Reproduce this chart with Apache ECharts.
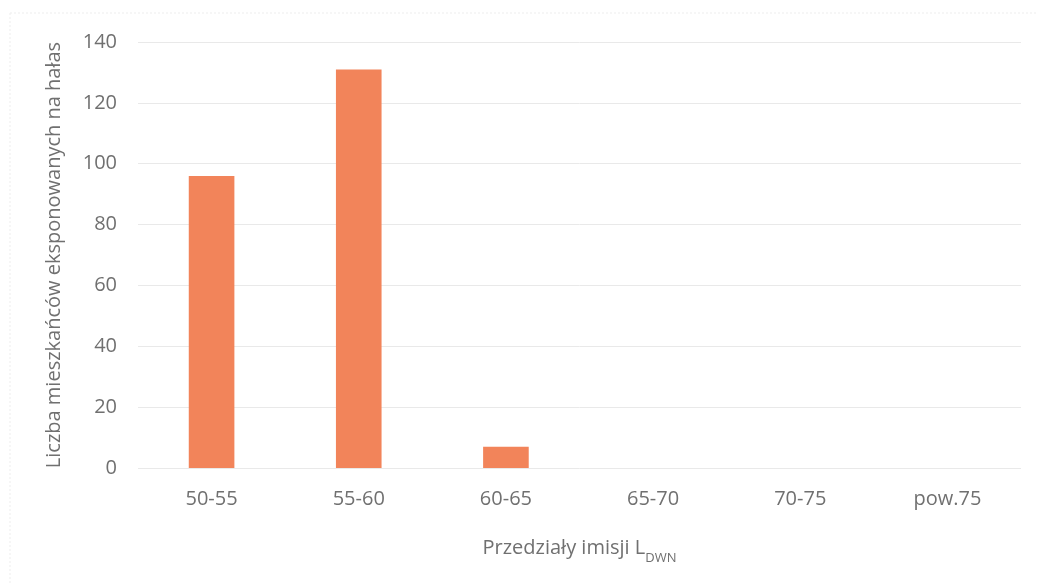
<!DOCTYPE html>
<html>
<head>
<meta charset="utf-8">
<script src="https://cdn.jsdelivr.net/npm/echarts@6/dist/echarts.min.js"></script>
<style>html,body{margin:0;padding:0;background:#fff;}#c{width:1037px;height:583px;}</style>
</head>
<body>
<div id="c"></div>
<script>
const categories = ['50-55', '55-60', '60-65', '65-70', '70-75', 'pow.75'];
const values = [96, 131, 7, 0, 0, 0];
const yTicks = [0, 20, 40, 60, 80, 100, 120, 140];

const font = '"Open Sans", sans-serif';
const textColor = '#707070';
const chart = echarts.init(document.getElementById('c'));
chart.setOption({
  backgroundColor: '#fff',
  animation: false,
  graphic: [
    { type: 'line', shape: { x1: 10, y1: 13, x2: 1037, y2: 13 }, style: { stroke: '#ededed', lineWidth: 1, lineDash: [2, 2] } },
    { type: 'line', shape: { x1: 10, y1: 13, x2: 10, y2: 583 }, style: { stroke: '#ededed', lineWidth: 1, lineDash: [2, 2] } }
  ],
  grid: { left: 138, right: 16, top: 42, bottom: 115, containLabel: false },
  xAxis: {
    type: 'category',
    data: categories,
    axisLine: { show: false },
    axisTick: { show: false },
    axisLabel: { color: textColor, fontFamily: font, fontSize: 20, margin: 21 },
    name: '{a|Przedziały imisji L}{b|DWN}',
    nameLocation: 'middle',
    nameGap: 66,
    nameTextStyle: {
      rich: {
        a: { color: textColor, fontFamily: font, fontSize: 20, lineHeight: 24, verticalAlign: 'bottom' },
        b: { color: textColor, fontFamily: font, fontSize: 13, lineHeight: 24, verticalAlign: 'bottom', padding: [0, 0, -7, 0] }
      }
    }
  },
  yAxis: {
    type: 'value',
    min: yTicks[0],
    max: yTicks[yTicks.length - 1],
    interval: yTicks[1] - yTicks[0],
    axisLine: { show: false },
    axisTick: { show: false },
    splitLine: { lineStyle: { color: '#e9e9e9', width: 1 } },
    axisLabel: { color: textColor, fontFamily: font, fontSize: 20, margin: 21 },
    name: 'Liczba mieszkańców eksponowanych na hałas',
    nameLocation: 'middle',
    nameGap: 74,
    nameTextStyle: { color: textColor, fontFamily: font, fontSize: 20 }
  },
  series: [{
    type: 'bar',
    data: values,
    barWidth: '31%',
    itemStyle: { color: '#f2845a' }
  }]
});
</script>
</body>
</html>
